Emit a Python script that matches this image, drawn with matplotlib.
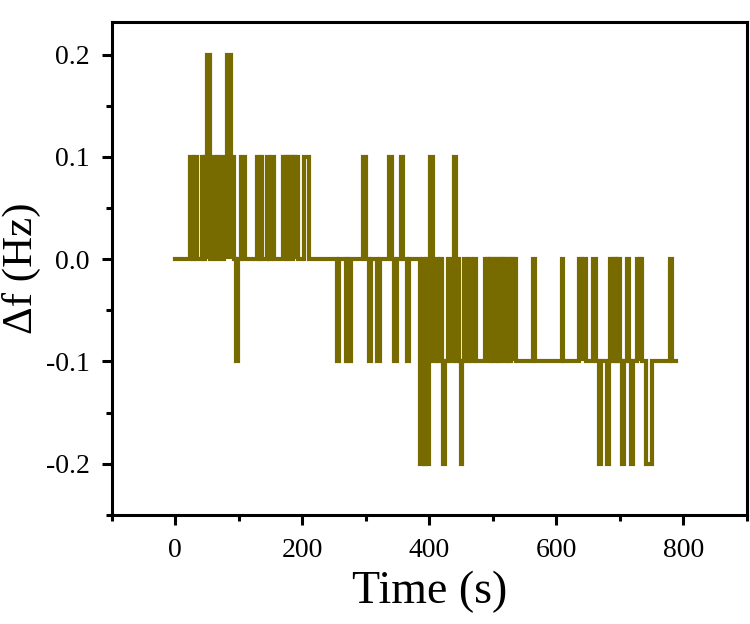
import matplotlib
matplotlib.use('Agg')
import matplotlib.pyplot as plt
from matplotlib.ticker import MultipleLocator, FormatStrFormatter

# Grundlinie (Startzeit, Niveau) und Ende der Messung
base_t = [0, 406]
base_f = [0.0, -0.1]
t_end = 788

# Pulse: Beginn, Ende, Niveau (Hz)
pulse_start = [23, 29, 42, 47, 50, 60, 65, 76, 81, 87, 96, 103, 128, 133, 145, 150,
               169, 173, 177, 181, 185, 189, 203,
               255, 268, 272, 296, 305, 318, 337, 345, 355, 364,
               386, 391, 396, 401,
               411, 418, 421, 429, 439, 444, 449, 455, 463, 470,
               487, 491, 496, 500, 505, 509, 514, 518, 523, 528, 532,
               563, 608, 636, 641, 658, 667, 680, 685, 689, 693, 697,
               704, 711, 717, 727, 732, 741, 779]
pulse_end = [28, 34, 46, 50, 55, 64, 70, 81, 87, 92, 99, 109, 132, 137, 148, 156,
             172, 176, 180, 184, 188, 193, 210,
             258, 271, 276, 300, 308, 322, 341, 349, 359, 368,
             390, 395, 399, 405,
             414, 420, 424, 433, 442, 447, 452, 458, 466, 473,
             490, 494, 499, 503, 508, 512, 517, 521, 526, 531, 536,
             567, 610, 640, 646, 663, 670, 683, 688, 692, 696, 700,
             707, 714, 720, 731, 735, 751, 782]
pulse_f = [0.1, 0.1, 0.1, 0.1, 0.2, 0.1, 0.1, 0.1, 0.2, 0.1, -0.1, 0.1, 0.1, 0.1, 0.1, 0.1,
           0.1, 0.1, 0.1, 0.1, 0.1, 0.1, 0.1,
           -0.1, -0.1, -0.1, 0.1, -0.1, -0.1, 0.1, -0.1, 0.1, -0.1,
           -0.2, -0.2, -0.2, 0.1,
           0.0, 0.0, -0.2, 0.0, 0.1, 0.0, -0.2, 0.0, 0.0, 0.0,
           0.0, 0.0, 0.0, 0.0, 0.0, 0.0, 0.0, 0.0, 0.0, 0.0, 0.0,
           0.0, 0.0, 0.0, 0.0, 0.0, -0.2, -0.2, 0.0, 0.0, 0.0, 0.0,
           -0.2, 0.0, -0.2, 0.0, 0.0, -0.2, 0.0]


def baseline(t):
    level = base_f[0]
    for bt, bf in zip(base_t, base_f):
        if t >= bt:
            level = bf
    return level


# Ereignisse sammeln (Ende vor Beginn bei gleicher Zeit)
events = [(bt, 0, bf) for bt, bf in zip(base_t, base_f)]
for s, e, f in zip(pulse_start, pulse_end, pulse_f):
    events.append((s, 1, f))
    events.append((e, 0, baseline(e)))
events.sort(key=lambda ev: (ev[0], ev[1]))
t = [ev[0] for ev in events] + [t_end]
df = [ev[2] for ev in events] + [events[-1][2]]

plt.rcParams['font.family'] = 'Liberation Serif'
plt.rcParams['axes.unicode_minus'] = False

fig = plt.figure(figsize=(7.5, 6.24), dpi=100)
ax = fig.add_axes([0.149, 0.175, 0.847, 0.79])
ax.plot(t, df, drawstyle='steps-post', color='#776b00', lw=3.0, solid_joinstyle='miter')

ax.set_xlim(-100, 900)
ax.set_ylim(-0.25, 0.232)
ax.xaxis.set_major_locator(MultipleLocator(200))
ax.xaxis.set_minor_locator(MultipleLocator(100))
ax.yaxis.set_major_locator(MultipleLocator(0.1))
ax.yaxis.set_minor_locator(MultipleLocator(0.05))
ax.yaxis.set_major_formatter(FormatStrFormatter('%.1f'))

for sp in ax.spines.values():
    sp.set_linewidth(2.2)
ax.tick_params(which='major', length=7, width=2.2, labelsize=20, direction='out')
ax.tick_params(axis='y', which='major', pad=9)
ax.tick_params(axis='x', which='major', pad=10)
ax.tick_params(which='minor', length=4, width=2.2, direction='out')

ax.set_xlabel('Time (s)', fontsize=33, labelpad=5)
ax.set_ylabel('Δf (Hz)', fontsize=31, labelpad=3)

fig.savefig('out.png', dpi=100)
